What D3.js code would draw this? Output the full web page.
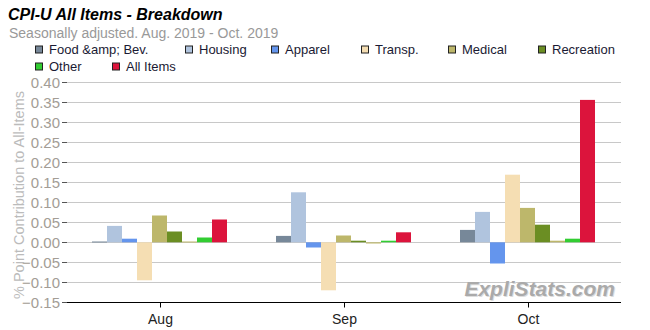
<!DOCTYPE html>
<html>
<head>
<meta charset="UTF-8">
<title>CPI-U All Items - Breakdown</title>
<script src="https://d3js.org/d3.v7.min.js"></script>
<style>
  body { margin: 0; background: #fff; }
  text { font-family: "Liberation Sans", Arial, sans-serif; }
  .grid line { stroke: #c8c8c8; stroke-width: 1; }
  .xlab { fill: #222; font-size: 14px; }
  .legend text { fill: #1a1a33; font-size: 13px; }
</style>
</head>
<body>
<div id="chart"></div>
<script>
// categories and series
var months = ["Aug", "Sep", "Oct"];
var seriesNames = ["Food &amp; Bev.", "Housing", "Apparel", "Transp.", "Medical", "Recreation", "Educ.", "Other", "All Items"];
var seriesColors = ["#778899", "#B0C4DE", "#6495ED", "#F5DEB3", "#BDB76B", "#6B8E23", "#BDB76B", "#32CD32", "#DC143C"];
var legendNames = ["Food &amp; Bev.", "Housing", "Apparel", "Transp.", "Medical", "Recreation", "Other", "All Items"];

// contributions, one array per month, in series order
var augVals = [0.002, 0.041, 0.009, -0.095, 0.067, 0.027, 0.002, 0.012, 0.057];
var sepVals = [0.016, 0.125, -0.013, -0.120, 0.017, 0.004, -0.003, 0.004, 0.025];
var octVals = [0.031, 0.076, -0.053, 0.169, 0.086, 0.044, 0.004, 0.009, 0.356];
var monthVals = [augVals, sepVals, octVals];

var yTicks = [-0.15, -0.10, -0.05, 0.00, 0.05, 0.10, 0.15, 0.20, 0.25, 0.30, 0.35, 0.40];

var W = 650, H = 330;
var svg = d3.select("#chart").append("svg").attr("width", W).attr("height", H);

var x = d3.scaleBand().domain(months).range([67.5, 619.5]);
var barW = 15;
var inner = d3.scaleBand().domain(d3.range(seriesNames.length))
  .range([(x.bandwidth() - barW * seriesNames.length) / 2, (x.bandwidth() + barW * seriesNames.length) / 2]);
var y = d3.scaleLinear().domain([-0.15, 0.40]).range([302.3, 82.3]);

// title
svg.append("text").attr("x", 8).attr("y", 20)
  .style("font-size", "16px").style("font-weight", "bold").style("font-style", "italic")
  .attr("fill", "#000").text("CPI-U All Items - Breakdown");
svg.append("text").attr("x", 9).attr("y", 38)
  .style("font-size", "14px").attr("fill", "#999")
  .text("Seasonally adjusted. Aug. 2019 - Oct. 2019");

// legend
var legPos = [[35, 49.5], [185, 49.5], [271, 49.5], [361, 49.5], [448, 49.5], [538, 49.5], [35, 66.5], [112, 66.5]];
var leg = svg.append("g").attr("class", "legend");
legendNames.forEach(function(n, i) {
  var c = seriesColors[seriesNames.indexOf(n)];
  var g = leg.append("g").attr("transform", "translate(" + legPos[i][0] + "," + legPos[i][1] + ")");
  g.append("rect").attr("x", 0.5).attr("y", -3.5).attr("width", 7).attr("height", 7)
    .attr("fill", c).attr("stroke", "#222").attr("stroke-width", 1);
  g.append("text").attr("x", 14).attr("y", 4.5).text(n);
});

// grid + y ticks
var grid = svg.append("g").attr("class", "grid");
yTicks.forEach(function(t) {
  var yy = Math.round(y(t)) + 0.5;
  if (t > -0.15) {
    grid.append("line").attr("x1", 67).attr("x2", 621).attr("y1", yy).attr("y2", yy);
  }
  svg.append("line").attr("x1", 62).attr("x2", 67).attr("y1", yy).attr("y2", yy)
    .attr("stroke", "#555");
  svg.append("text").attr("x", 60).attr("y", yy + 5)
    .attr("text-anchor", "end").style("fill", "#a39d95").style("font-size", "15px")
    .text(d3.format(".2f")(t));
});

// y title
svg.append("text")
  .attr("transform", "translate(24,195) rotate(-90)")
  .attr("text-anchor", "middle").attr("fill", "#bbb").style("font-size", "14.5px")
  .text("% Point Contribution to All-Items");

// bars
months.forEach(function(m, mi) {
  var g = svg.append("g").attr("transform", "translate(" + x(m) + ",0)");
  g.selectAll("rect").data(monthVals[mi]).enter().append("rect")
    .attr("x", function(d, i) { return inner(i); })
    .attr("width", inner.bandwidth())
    .attr("y", function(d) { return Math.min(y(d), y(0)); })
    .attr("height", function(d) { return Math.max(1, Math.abs(y(d) - y(0))); })
    .attr("fill", function(d, i) { return seriesColors[i]; });
});

// watermark
svg.append("text").attr("x", 616).attr("y", 297).attr("text-anchor", "end")
  .style("font-size", "21px").style("font-weight", "bold").style("font-style", "italic")
  .attr("fill", "#ddd").text("ExpliStats.com");
svg.append("text").attr("x", 615).attr("y", 296).attr("text-anchor", "end")
  .style("font-size", "21px").style("font-weight", "bold").style("font-style", "italic")
  .attr("fill", "#aaa").text("ExpliStats.com");

// x axis
var ax = Math.round(y(-0.15)) + 0.5;
svg.append("line").attr("x1", 67).attr("x2", 621).attr("y1", ax).attr("y2", ax).attr("stroke", "#000");
months.forEach(function(m) {
  var cx = Math.round(x(m) + x.bandwidth() / 2) + 0.5;
  svg.append("line").attr("x1", cx).attr("x2", cx).attr("y1", ax).attr("y2", ax + 5).attr("stroke", "#000");
  svg.append("text").attr("class", "xlab").attr("x", cx).attr("y", ax + 21)
    .attr("text-anchor", "middle").text(m);
});
</script>
</body>
</html>
